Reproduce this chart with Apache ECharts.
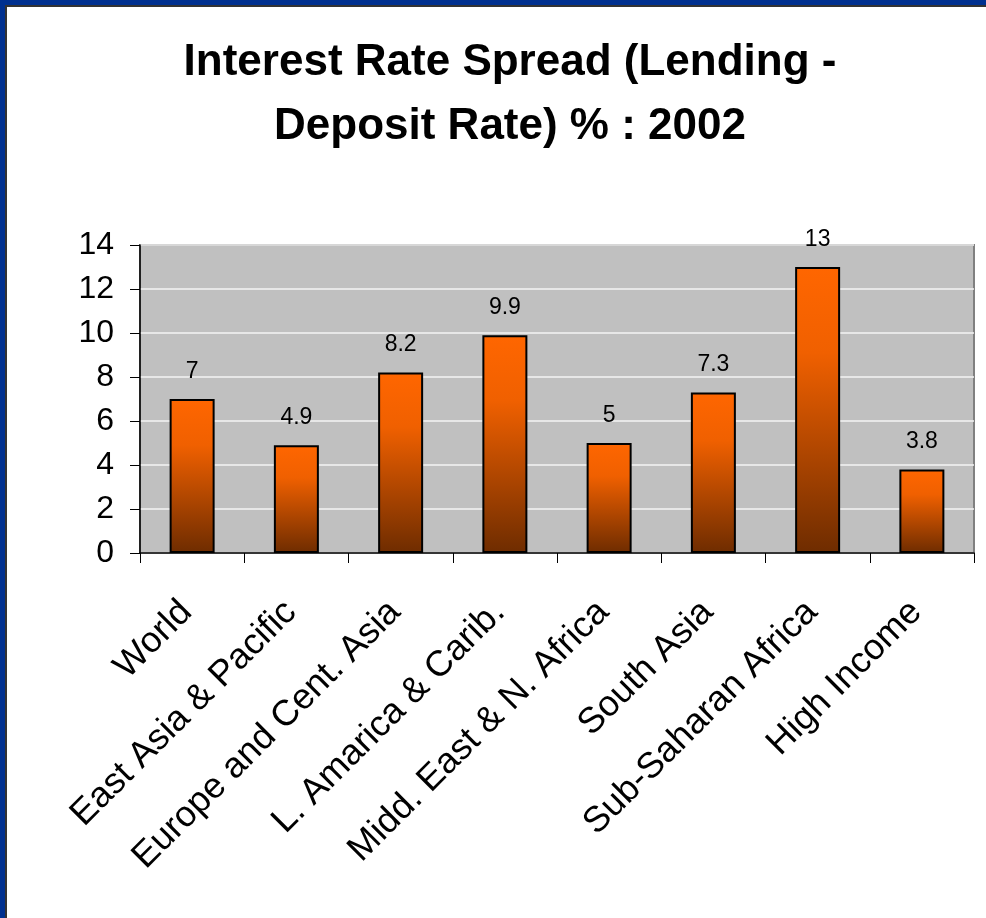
<!DOCTYPE html>
<html>
<head>
<meta charset="utf-8">
<script src="https://cdn.jsdelivr.net/npm/echarts@6/dist/echarts.min.js"></script>
<style>
  html, body { margin: 0; padding: 0; background: #ffffff; }
  #frame {
    position: relative; width: 986px; height: 918px; box-sizing: border-box;
    border-top: 5px solid #00308f; border-left: 5px solid #00308f;
  }
  #frame::before {
    content: ""; position: absolute; left: 0; top: 0; right: 0; bottom: 0;
    border-top: 2px solid #333333; border-left: 2px solid #333333; pointer-events: none; z-index: 2;
  }
  #chart { position: absolute; left: -5px; top: -5px; width: 986px; height: 918px; }
</style>
</head>
<body>
<div id="frame"><div id="chart"></div></div>
<script>
// Regions and their lending-minus-deposit rate spread, 2002
const categories = ['World', 'East Asia & Pacific', 'Europe and Cent. Asia', 'L. Amarica & Carib.',
  'Midd. East & N. Africa', 'South Asia', 'Sub-Saharan Africa', 'High Income'];
const spread = [7, 4.9, 8.2, 9.9, 5, 7.3, 13, 3.8];
const yTicks = [0, 2, 4, 6, 8, 10, 12, 14];

const chart = echarts.init(document.getElementById('chart'), null, { renderer: 'canvas' });
const font = '"Liberation Sans", Arial, sans-serif';

chart.setOption({
  animation: false,
  backgroundColor: 'transparent',
  title: {
    text: 'Interest Rate Spread (Lending -\nDeposit Rate) % : 2002',
    left: 505, top: 26, textAlign: 'center',
    textStyle: { fontFamily: font, fontWeight: 'bold', fontSize: 44, lineHeight: 64, color: '#000' }
  },
  grid: { left: 140, top: 245, right: 12, bottom: 365, show: true, backgroundColor: '#c0c0c0', borderColor: '#808080', borderWidth: 2 },
  xAxis: {
    type: 'category', data: categories,
    axisLine: { lineStyle: { color: '#000', width: 1.5 } },
    axisTick: { show: true, length: 10, alignWithLabel: false, lineStyle: { color: '#000' } },
    axisLabel: { rotate: 45, margin: 48, padding: [0, 8, 0, 0], fontFamily: font, fontSize: 36, color: '#000', interval: 0 }
  },
  yAxis: {
    type: 'value', min: yTicks[0], max: yTicks[yTicks.length - 1], interval: 2,
    axisLine: { show: true, lineStyle: { color: '#000', width: 1.5 } },
    axisTick: { show: true, length: 10, lineStyle: { color: '#000' } },
    axisLabel: { margin: 26, fontFamily: font, fontSize: 32, color: '#000' },
    splitLine: { show: true, lineStyle: { color: '#f4f4f4', width: 1.5 } }
  },
  series: [{
    type: 'bar', data: spread, barWidth: 45,
    itemStyle: {
      borderColor: '#000', borderWidth: 2,
      color: new echarts.graphic.LinearGradient(0, 0, 0, 1, [
        { offset: 0, color: '#ff6600' },
        { offset: 0.3, color: '#f06000' },
        { offset: 1, color: '#6e2c00' }
      ])
    },
    label: { show: true, position: 'top', distance: 16, fontFamily: font, fontSize: 23, color: '#000' }
  }]
});
</script>
</body>
</html>
